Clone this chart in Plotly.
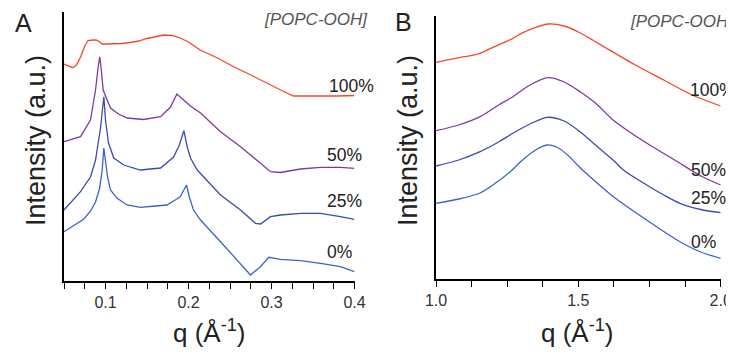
import plotly.graph_objects as go

# ---------------- Panel A data (SAXS) ----------------
qA_0 = [0.05, 0.063, 0.074, 0.082, 0.088, 0.093, 0.096, 0.098, 0.1005, 0.1025, 0.106, 0.114, 0.126,
        0.142, 0.160, 0.174, 0.184, 0.190, 0.1976, 0.201, 0.206, 0.2145, 0.2386, 0.2627, 0.2747,
        0.2867, 0.2967, 0.311, 0.335, 0.359, 0.383, 0.4]
iA_0 = [49.3, 56, 62, 70, 79, 93, 111, 133, 116, 104, 91, 82.7, 76,
        73.7, 75, 76, 81, 84.3, 96, 84, 71, 61, 39.3, 17.7, 6,
        14.3, 23.7, 21.7, 20.3, 17.7, 14.3, 9.3]

qA_25 = [0.05, 0.0699, 0.0819, 0.088, 0.094, 0.098, 0.1, 0.1036, 0.11, 0.122, 0.142, 0.1663, 0.182,
         0.189, 0.1944, 0.1988, 0.2024, 0.2105, 0.2386, 0.2627, 0.2807, 0.2867, 0.2988, 0.3108,
         0.3349, 0.359, 0.3831, 0.4]
iA_25 = [71, 89.3, 104, 121, 153, 184.3, 161, 138, 123, 116, 111, 113, 124,
         136, 150.3, 133, 123, 111, 86, 71, 57.7, 57, 64.3, 66,
         67.7, 67.7, 64.3, 61.7]

qA_50 = [0.05, 0.0602, 0.0699, 0.0819, 0.088, 0.091, 0.0931, 0.0952, 0.0972, 0.102, 0.106, 0.1157,
         0.1261, 0.1458, 0.1663, 0.1783, 0.186, 0.19, 0.2024, 0.2145, 0.2386, 0.2627, 0.2867,
         0.2988, 0.3108, 0.3229, 0.3349, 0.359, 0.3831, 0.4]
iA_50 = [139.3, 141.5, 144.3, 161, 191, 213, 224.3, 209, 191, 181, 173, 167,
         163, 161.5, 164.3, 174, 187, 184, 175, 168, 149.3, 134.3, 117.7,
         109.3, 108.5, 110, 112, 113.7, 113.7, 112.7]

qA_100 = [0.05, 0.055, 0.0605, 0.065, 0.07, 0.075, 0.079, 0.085, 0.089, 0.093, 0.096, 0.1, 0.11,
          0.12, 0.13, 0.14, 0.15, 0.16, 0.17, 0.18, 0.19, 0.2, 0.214, 0.235, 0.255, 0.275, 0.287,
          0.3, 0.311, 0.3265, 0.34, 0.36, 0.38, 0.4]
iA_100 = [217, 215, 213.3, 216, 224, 235, 240.5, 241, 241, 239, 237, 237, 237,
          237.5, 238.5, 240, 242.5, 244.5, 246, 245.5, 243, 239, 231, 223, 214, 206, 201,
          195, 191, 185, 185, 184.5, 185, 185.5]

# ---------------- Panel B data (WAXS) ----------------
qB_0 = [1.0, 1.08, 1.155, 1.2, 1.26, 1.3, 1.35, 1.39, 1.43, 1.47, 1.5, 1.55, 1.623, 1.74, 1.857, 1.93, 2.0]
iB_0 = [75.7, 80, 86, 94, 107, 118, 129, 134, 131, 122, 113, 100, 82.3, 59, 37.3, 27, 20.7]

qB_25 = [1.0, 1.08, 1.155, 1.22, 1.27, 1.33, 1.39, 1.45, 1.506, 1.56, 1.622, 1.658, 1.74, 1.8, 1.857, 1.93, 2.0]
iB_25 = [113, 119, 127.3, 137, 145.7, 155, 161.7, 158, 147.3, 134, 119, 109, 94, 84, 75.7, 69.5, 66.3]

qB_50 = [1.0, 1.08, 1.155, 1.22, 1.27, 1.33, 1.394, 1.45, 1.506, 1.56, 1.622, 1.68, 1.741, 1.8, 1.857, 1.93, 2.0]
iB_50 = [148.3, 154, 162.3, 174, 182.3, 194, 201.3, 197, 187.3, 176, 159, 147, 135.7, 125.5, 115.7, 103, 94]

qB_100 = [1.0, 1.05, 1.1, 1.155, 1.2, 1.27, 1.3, 1.35, 1.395, 1.45, 1.5, 1.55, 1.6, 1.7, 1.8, 1.9, 2.0]
iB_100 = [216.7, 219.7, 222.3, 225.7, 231.7, 240.7, 245.7, 251.7, 255, 253, 247, 239, 230.5, 214, 199, 184, 173]

series_labels = ["0%", "25%", "50%", "100%"]
colors = ["#3e63c8", "#3a4bb0", "#7e3a9e", "#f2472b"]

A_major_ticks = [0.1, 0.2, 0.3, 0.4]
A_major_text = ["0.1", "0.2", "0.3", "0.4"]
A_minor_ticks = [0.05, 0.075, 0.125, 0.15, 0.175, 0.225, 0.25, 0.275, 0.325, 0.35, 0.375]
B_major_ticks = [1.0, 1.5, 2.0]
B_major_text = ["1.0", "1.5", "2.0"]
B_minor_ticks = [1.125, 1.25, 1.375, 1.625, 1.75, 1.875]

W, H = 734, 352
OFF = 8  # page body margin offset of the plot div
FONT = "Liberation Sans, Arial, sans-serif"

fig = go.Figure()

A_sets = [(qA_0, iA_0), (qA_25, iA_25), (qA_50, iA_50), (qA_100, iA_100)]
B_sets = [(qB_0, iB_0), (qB_25, iB_25), (qB_50, iB_50), (qB_100, iB_100)]

for (q, v), name, c in zip(A_sets, series_labels, colors):
    fig.add_trace(go.Scatter(x=q, y=v, mode="lines", name=name, showlegend=False,
                             line=dict(color=c, width=1.3), xaxis="x", yaxis="y"))
for (q, v), name, c in zip(B_sets, series_labels, colors):
    fig.add_trace(go.Scatter(x=q, y=v, mode="lines", name=name, showlegend=False,
                             line=dict(color=c, width=1.3, shape="spline", smoothing=0.8),
                             xaxis="x2", yaxis="y2"))

def px(x):
    return (x - OFF) / W

def py(y):
    return 1 - (y - OFF) / H

axis_common = dict(showline=True, linecolor="black", linewidth=1.6, showgrid=False, zeroline=False,
                   automargin=False)
xtick_common = dict(ticks="outside", ticklen=6, tickwidth=1.4, tickcolor="black",
                    tickfont=dict(family=FONT, size=16, color="#333"))
minor_common = dict(ticks="outside", ticklen=6, tickwidth=1.4, tickcolor="black", showgrid=False)

fig.update_layout(
    width=W, height=H, autosize=False,
    margin=dict(l=0, r=0, t=0, b=0, pad=0),
    paper_bgcolor="white", plot_bgcolor="white",
    font=dict(family=FONT, color="#222"),
    xaxis=dict(domain=[px(64), px(354.5)], range=[0.05, 0.4], tickmode="array",
               tickvals=A_major_ticks, ticktext=A_major_text, anchor="y",
               minor=dict(tickmode="array", tickvals=A_minor_ticks, **minor_common),
               **axis_common, **xtick_common),
    yaxis=dict(domain=[py(281), py(12)], range=[0, 269], showticklabels=False, ticks="",
               anchor="x", **axis_common),
    xaxis2=dict(domain=[px(436), px(720.7)], range=[1.0, 2.0], tickmode="array",
                tickvals=B_major_ticks, ticktext=B_major_text, anchor="y2",
                minor=dict(tickmode="array", tickvals=B_minor_ticks, **minor_common),
                **axis_common, **xtick_common),
    yaxis2=dict(domain=[py(279), py(16)], range=[0, 263], showticklabels=False, ticks="",
                anchor="x2", **axis_common),
)

ann = []
def add(text, x, y, size, xanchor="center", yanchor="middle", color="#222", italic=False, angle=0):
    t = f"<i>{text}</i>" if italic else text
    ann.append(dict(text=t, x=px(x), y=py(y), xref="paper", yref="paper", showarrow=False,
                    xanchor=xanchor, yanchor=yanchor, textangle=angle,
                    font=dict(family=FONT, size=size, color=color)))

# panel letters
add("A", 23, 23, 25)
add("B", 403, 22, 25)
# header
add("[POPC-OOH]", 370, 20, 17, xanchor="right", color="#555", italic=True)
add("[POPC-OOH]", 736, 21, 17, xanchor="right", color="#555", italic=True)
# series labels A
for lab, x, y in zip(series_labels, [325, 325, 325, 327], [251.5, 201, 155, 86]):
    add(lab, x, y, 17.5, xanchor="left")
# series labels B (right-aligned near the right edge)
for lab, x, y in zip(series_labels, [718, 728, 728, 737], [242.5, 197.5, 170, 90]):
    add(lab, x, y, 17.5, xanchor="right")
# axis titles
add("Intensity (a.u.)", 36, 141, 27, angle=-90)
add("Intensity (a.u.)", 408, 141, 27, angle=-90)
add("q (Å<sup>-1</sup>)", 209, 331, 26)
add("q (Å<sup>-1</sup>)", 577, 331, 26)

fig.update_layout(annotations=ann)

fig.write_html("out.html")
